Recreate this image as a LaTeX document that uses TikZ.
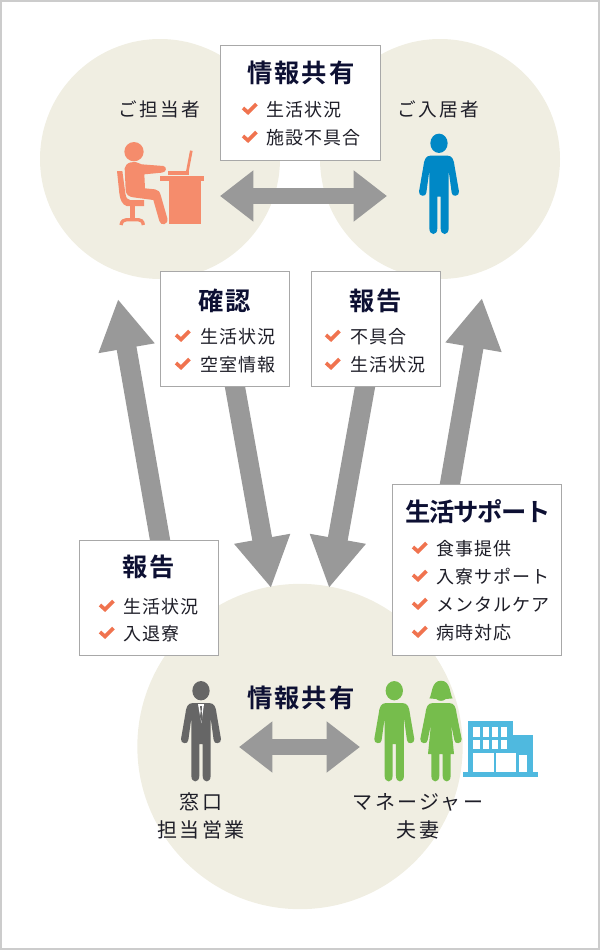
\documentclass[tikz,border=0pt]{standalone}
\usepackage{fontspec}
\setmainfont{Noto Sans CJK JP}[LetterSpace=6]
\newfontfamily\labelfont{Noto Sans CJK JP}[LetterSpace=12]
\newfontfamily\titlefont{Noto Sans CJK JP Bold}[LetterSpace=8]
\newfontfamily\supportfont{Noto Sans CJK JP Bold}[LetterSpace=-5]
\usetikzlibrary{arrows.meta,calc,backgrounds}

\definecolor{bubblecol}{HTML}{F0EEE2}
\definecolor{arrowcol}{HTML}{999999}
\definecolor{tickcol}{HTML}{F0734F}
\definecolor{titlecol}{HTML}{0D1033}
\definecolor{textcol}{HTML}{1E1E28}
\definecolor{staffcol}{HTML}{F58C6C}
\definecolor{residentcol}{HTML}{0088C6}
\definecolor{managercol}{HTML}{76BD4C}
\definecolor{salescol}{HTML}{666666}
\definecolor{buildingcol}{HTML}{4FB9DF}

\begin{document}
\begin{tikzpicture}[
    x=0.75pt, y=-0.75pt,
    bubble/.style     = {circle, fill=bubblecol, inner sep=0pt},
    infobox/.style    = {draw=arrowcol!85, fill=white, line width=0.75pt, inner sep=0pt},
    boxtitle/.style   = {font=\titlefont\fontsize{19pt}{22pt}\selectfont, text=titlecol, inner sep=0pt},
    itemtext/.style   = {font=\fontsize{13.5pt}{16pt}\selectfont, text=textcol, anchor=west, inner sep=0pt},
    rolelabel/.style  = {font=\labelfont\fontsize{14pt}{21pt}\selectfont, text=textcol, align=center, inner sep=0pt},
    bottomlabel/.style = {font=\labelfont\fontsize{15pt}{21pt}\selectfont, text=textcol, align=center, inner sep=0pt},
    bigarrow/.style   = {draw=arrowcol, line width=15pt, -{Triangle[length=37.5pt, width=40pt]}},
    bothways/.style   = {draw=arrowcol, line width=12.4pt, {Triangle[length=25pt, width=36.75pt]}-{Triangle[length=25pt, width=36.75pt]}},
    tick/.pic         = {\draw[tickcol, line width=2.7pt] (-7,-1) -- (-2,3.5) -- (6.5,-5);},
    man/.pic = {
      \path[pic actions] (0,0) ellipse [x radius=26, y radius=29];
      \path[pic actions] (-25,37) .. controls (-40,37) and (-45,50) .. (-47,70) -- (-60,145)
        .. controls (-62,160) and (-38,162) .. (-38,148) -- (-29,82) -- (-29,255)
        .. controls (-29,278) and (-5,278) .. (-5,255) -- (-5,160) -- (5,160) -- (5,255)
        .. controls (5,278) and (29,278) .. (29,255) -- (29,82) -- (38,148)
        .. controls (38,162) and (62,160) .. (60,145) -- (47,70)
        .. controls (45,50) and (40,37) .. (25,37) -- cycle;
    },
    woman/.pic = {
      \path[pic actions] (-35,23) .. controls (-26,12) and (-30,-30) .. (0,-30)
        .. controls (30,-30) and (26,12) .. (35,23) -- (14,25)
        .. controls (8,32) and (-8,32) .. (-14,25) -- cycle;
      \path[pic actions] (-25,37) .. controls (-40,37) and (-45,50) .. (-47,70) -- (-62,145)
        .. controls (-64,160) and (-40,162) .. (-40,148) -- (-30,100) -- (-39,190) -- (-29,190) -- (-29,255)
        .. controls (-29,278) and (-5,278) .. (-5,255) -- (-5,190) -- (5,190) -- (5,255)
        .. controls (5,278) and (29,278) .. (29,255) -- (29,190) -- (39,190) -- (30,100) -- (40,148)
        .. controls (40,162) and (64,160) .. (62,145) -- (47,70)
        .. controls (45,50) and (40,37) .. (25,37) -- cycle;
    }
  ]

\useasboundingbox (0,0) rectangle (600,950);
\draw[gray!40, line width=1.5pt] (1,1) rectangle (599,949);

% Boxes
\node[infobox, minimum width=120pt, minimum height=86pt] (sharetop)    at (300,102.7) {};
\node[infobox, minimum width=97pt, minimum height=86pt]  (checkbox)    at (225,329) {};
\node[infobox, minimum width=97pt, minimum height=86pt]  (reportright) at (376,329) {};
\node[infobox, minimum width=104pt, minimum height=86pt] (reportleft)  at (149,598) {};
\node[infobox, minimum width=127pt, minimum height=128pt]  (support)     at (477,570) {};

% Free ends of the arrows
\coordinate (staffin)      at (118,299);
\coordinate (residentin)   at (482,298);
\coordinate (salesin)      at (271,588);
\coordinate (managerin)    at (329,588);
\coordinate (topleft)      at (220,196);
\coordinate (topright)     at (387,196);
\coordinate (bottomleft)   at (239,747);
\coordinate (bottomright)  at (360,747);

\begin{scope}[on background layer]
  \node[bubble, minimum size=180pt] (staffcircle)    at (160,159) {};
  \node[bubble, minimum size=180pt] (residentcircle) at (440,159) {};
  \node[bubble, minimum size=244pt] (housecircle)    at (300,746.5) {};

  % tails start a little inside the boxes, which cover them
  \draw[bigarrow] ($(reportleft.north)+(13,11)$) -- (staffin);
  \draw[bigarrow] ($(checkbox.south)+(8,-11)$) -- (salesin);
  \draw[bigarrow] ($(reportright.south)+(-9,-11)$) -- (managerin);
  \draw[bigarrow] ($(support.north)+(-29,11)$) -- (residentin);
\end{scope}
\draw[bothways] (topleft) -- (topright);
\draw[bothways] (bottomleft) -- (bottomright);

% Box titles
\node[boxtitle] (sharetitle)  at (301,73)  {情報共有};
\node[boxtitle] (checktitle)  at (225,301) {確認};
\node[boxtitle] (rightitle)   at (376,301) {報告};
\node[boxtitle] (lefttitle)   at (149,567) {報告};
\node[boxtitle, font=\supportfont\fontsize{19pt}{22pt}\selectfont] (supporttitle) at (478,512) {生活サポート};
\node[boxtitle] (housetitle)  at (301,698) {情報共有};

% Check lists
\foreach \yy/\txt in {109/生活状況, 137/施設不具合} {
  \pic at (250,\yy) {tick};
  \node[itemtext] at (266,\yy.5) {\txt};
}
\foreach \yy/\txt in {336/生活状況, 364/空室情報} {
  \pic at (183,\yy) {tick};
  \node[itemtext] at (200,\yy.5) {\txt};
}
\foreach \yy/\txt in {336/不具合, 364/生活状況} {
  \pic at (333,\yy) {tick};
  \node[itemtext] at (350,\yy.5) {\txt};
}
\foreach \yy/\txt in {606/生活状況, 633/入退寮} {
  \pic at (107,\yy) {tick};
  \node[itemtext] at (123,\yy.5) {\txt};
}
\foreach \yy/\txt in {548/食事提供, 576/入寮サポート, 604/メンタルケア, 632/病時対応} {
  \pic at (420,\yy) {tick};
  \node[itemtext] at (436,\yy.5) {\txt};
}

% Role labels
\node[rolelabel] (stafflabel)    at (159,109) {ご担当者};
\node[rolelabel] (residentlabel) at (438,109) {ご入居者};
\node[bottomlabel] (saleslabel)    at (201,816) {窓口\\担当営業};
\node[bottomlabel] (managerlabel)  at (418,816) {マネージャー\\夫妻};

% People
\pic[scale=1/3, fill=residentcol] at (439,143.3) {man};
\pic[scale=1/3, fill=salescol]    at (201,690.7) {man};
\pic[scale=1/3, fill=managercol]  at (394.3,690.7) {man};
\pic[scale=1/3, fill=managercol]  at (441,690.7) {woman};

% White shirt and tie
\begin{scope}[shift={(201,690.7)}, scale=1/3]
  \fill[white] (-9,40) -- (9,40) -- (1,98) -- cycle;
  \fill[salescol] (-3,46) -- (3,46) -- (2,62) -- (4,78) -- (1,94) -- (-3,78) -- (-1,62) -- cycle;
\end{scope}

% Staff at the desk
\begin{scope}[shift={(110,135)}, scale=1/3, fill=staffcol]
  \fill (72,50) circle (29);
  \fill (62,82) .. controls (72,78) and (80,82) .. (95,88) -- (160,93)
    .. controls (171,95) and (171,112) .. (155,113) -- (103,118) -- (105,160) -- (135,163)
    .. controls (145,165) and (149,170) .. (152,180) -- (172,250)
    .. controls (176,270) and (152,274) .. (148,258) -- (130,195) -- (70,187)
    .. controls (55,185) and (48,178) .. (47,165) -- (44,100)
    .. controls (44,92) and (52,85) .. (62,82) -- cycle;
  \fill (21,108) -- (37,108) -- (46,175) .. controls (48,188) and (52,195) .. (60,195)
    -- (102,195) -- (102,213) -- (50,213) .. controls (38,210) and (30,195) .. (28,175) -- cycle;
  \fill (60,213) rectangle (75,250);
  \draw[staffcol, line width=2.5pt] (33,270) .. controls (35,258) and (42,254) .. (50,254)
    -- (85,254) .. controls (92,254) and (99,258) .. (100,270);
  \fill (149,123) rectangle (282,137);
  \fill (176,137) rectangle (272,268);
  \draw[staffcol, line width=2pt] (244,47) -- (231,115);
  \fill (173,108) rectangle (236,120);
\end{scope}

% Building
\begin{scope}[shift={(370,675)}, scale=1/3]
  \fill[buildingcol] (279,292) rectangle (504,305);
  \fill[buildingcol] (294,138) rectangle (430,292);
  \fill[buildingcol] (430,179) rectangle (490,292);
  \foreach \xx in {310,338,365,392} {
    \foreach \yy in {157,194} {
      \fill[white] (\xx,\yy) rectangle ++(20,29);
    }
  }
  \fill[white] (310,235) rectangle (371,290);
  \fill[white] (378,235) rectangle (439,290);
  \fill[white] (446,241) rectangle (472,290);
\end{scope}

\end{tikzpicture}
\end{document}
